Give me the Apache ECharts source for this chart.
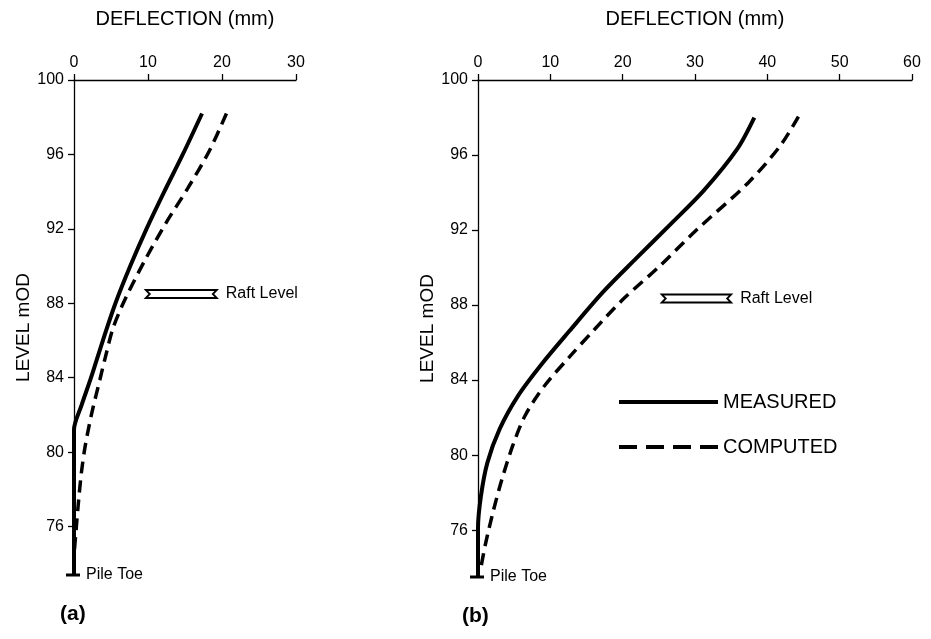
<!DOCTYPE html>
<html>
<head>
<meta charset="utf-8">
<script src="https://cdn.jsdelivr.net/npm/echarts@6/dist/echarts.min.js"></script>
<style>
html,body{margin:0;padding:0;background:#fff;}
#chart{width:931px;height:639px;}
</style>
</head>
<body>
<div id="chart"></div>
<script>
// ---- Data ----
const levelTicks = [76, 80, 84, 88, 92, 96, 100];

// Panel (a)
const measuredA_level = [98.2, 96.0, 94.0, 92.0, 90.0, 88.0, 86.0, 84.0, 82.5, 81.2, 73.4];
const measuredA_defl  = [17.3, 14.7, 12.2, 9.8, 7.6, 5.6, 3.9, 2.3, 1.0, 0.0, 0.0];
const computedA_level = [98.2, 96.2, 94.2, 92.3, 90.4, 88.3, 86.7, 85.2, 83.9, 82.1, 80.3, 78.9, 77.3, 75.9, 74.1, 73.4];
const computedA_defl  = [20.6, 18.3, 15.4, 12.4, 9.7, 7.0, 5.3, 4.3, 3.5, 2.4, 1.5, 1.0, 0.6, 0.3, 0.0, 0.0];

// Panel (b)
const measuredB_level = [98.0, 96.3, 94.1, 92.3, 90.5, 88.7, 86.6, 84.9, 83.2, 81.4, 79.6, 77.8, 76.1, 73.5];
const measuredB_defl  = [38.2, 35.8, 31.2, 26.6, 21.9, 17.3, 12.6, 8.9, 5.6, 3.0, 1.3, 0.4, 0.0, 0.0];
const computedB_level = [98.05, 96.5, 94.5, 92.0, 90.0, 88.4, 86.7, 85.3, 83.7, 82.1, 80.5, 78.7, 77.0, 75.2, 74.0];
const computedB_defl  = [44.3, 41.8, 37.3, 30.2, 24.9, 20.3, 16.1, 12.8, 9.2, 6.5, 4.8, 3.3, 2.1, 1.0, 0.4];

// Raft level annotations: [start deflection, end deflection, level]
const raftA = [9.7, 19.3, 88.5];
const raftB = [25.4, 35.0, 88.35];
// Pile toe: [deflection, level]
const pileToeA = [0, 73.4];
const pileToeB = [0, 73.5];

const FONT = 'Liberation Sans, Arial, Helvetica, sans-serif';

function pairs(d, l) { return d.map((v, i) => [v, l[i]]); }

function raftRender(params, api) {
  const y = api.value(2);
  const p1 = api.coord([api.value(0), y]);
  const p2 = api.coord([api.value(1), y]);
  const h = 4, n = 4;
  return {
    type: 'group',
    children: [
      { type: 'polygon',
        shape: { points: [[p1[0], p1[1]-h], [p2[0], p2[1]-h], [p2[0]-n, p2[1]], [p2[0], p2[1]+h], [p1[0], p1[1]+h], [p1[0]+n, p1[1]]] },
        style: { fill: '#fff', stroke: '#000', lineWidth: 1.8 } },
      { type: 'text',
        style: { text: 'Raft Level', x: p2[0] + 9, y: p2[1], verticalAlign: 'middle', align: 'left', fontSize: 16, fontFamily: FONT, fill: '#000' } }
    ]
  };
}

function toeRender(params, api) {
  const p = api.coord([api.value(0), api.value(1)]);
  return {
    type: 'group',
    children: [
      { type: 'line', shape: { x1: p[0]-8, y1: p[1], x2: p[0]+6, y2: p[1] }, style: { stroke: '#000', lineWidth: 3 } },
      { type: 'text', style: { text: 'Pile Toe', x: p[0] + 12, y: p[1], verticalAlign: 'middle', align: 'left', fontSize: 16, fontFamily: FONT, fill: '#000' } }
    ]
  };
}

function xAxisCfg(idx, max) {
  return {
    gridIndex: idx, type: 'value', position: 'top', min: 0, max: max, interval: 10,
    name: 'DEFLECTION (mm)', nameLocation: 'middle', nameGap: 51,
    nameTextStyle: { fontSize: 20, fontFamily: FONT, color: '#000' },
    axisLine: { show: true, lineStyle: { color: '#000', width: 1.3 } },
    axisTick: { show: true, length: 6, lineStyle: { color: '#000', width: 1.3 } },
    axisLabel: { fontSize: 16, fontFamily: FONT, color: '#000', margin: 9 },
    splitLine: { show: false }
  };
}
function yAxisCfg(idx, min) {
  return {
    gridIndex: idx, type: 'value', min: min, max: 100,
    name: 'LEVEL mOD', nameLocation: 'middle', nameGap: 26,
    nameTextStyle: { fontSize: 19, fontFamily: FONT, color: '#000' },
    axisLine: { show: true, lineStyle: { color: '#000', width: 1.3 } },
    axisTick: { show: true, length: 6, customValues: levelTicks, lineStyle: { color: '#000', width: 1.3 } },
    axisLabel: { fontSize: 16, fontFamily: FONT, color: '#000', margin: 10, customValues: levelTicks },
    splitLine: { show: false }
  };
}

const lineBase = { type: 'line', symbol: 'none', showSymbol: false, smooth: 0.3, clip: false, z: 3, itemStyle: { color: '#000' } };

const option = {
  animation: false,
  backgroundColor: '#fff',
  grid: [
    { left: 74, top: 80, width: 222, height: 495 },
    { left: 478, top: 80, width: 434, height: 497 }
  ],
  xAxis: [xAxisCfg(0, 30), xAxisCfg(1, 60)],
  yAxis: [yAxisCfg(0, pileToeA[1]), yAxisCfg(1, pileToeB[1])],
  legend: {
    orient: 'vertical', left: 617, top: 392, padding: 0, itemWidth: 99, itemHeight: 20, itemGap: 25,
    itemStyle: { opacity: 0 },
    lineStyle: { width: 4 },
    textStyle: { fontSize: 20, fontFamily: FONT, color: '#000' },
    data: [
      { name: 'MEASURED' },
      { name: 'COMPUTED', lineStyle: { width: 4, type: [18, 9] } }
    ]
  },
  title: [
    { text: '(a)', left: 60, top: 604, textStyle: { fontSize: 21, fontWeight: 'bold', fontFamily: FONT, color: '#000' }, padding: 0 },
    { text: '(b)', left: 462, top: 606, textStyle: { fontSize: 21, fontWeight: 'bold', fontFamily: FONT, color: '#000' }, padding: 0 }
  ],
  series: [
    Object.assign({}, lineBase, { name: 'MEASURED', xAxisIndex: 0, yAxisIndex: 0, data: pairs(measuredA_defl, measuredA_level), lineStyle: { color: '#000', width: 4 } }),
    Object.assign({}, lineBase, { name: 'COMPUTED', xAxisIndex: 0, yAxisIndex: 0, data: pairs(computedA_defl, computedA_level), lineStyle: { color: '#000', width: 3.5, type: [12, 7] } }),
    Object.assign({}, lineBase, { name: 'MEASURED', xAxisIndex: 1, yAxisIndex: 1, data: pairs(measuredB_defl, measuredB_level), lineStyle: { color: '#000', width: 4 } }),
    Object.assign({}, lineBase, { name: 'COMPUTED', xAxisIndex: 1, yAxisIndex: 1, data: pairs(computedB_defl, computedB_level), lineStyle: { color: '#000', width: 3.5, type: [12, 7] } }),
    { type: 'custom', xAxisIndex: 0, yAxisIndex: 0, renderItem: raftRender, data: [raftA], clip: false, z: 4 },
    { type: 'custom', xAxisIndex: 1, yAxisIndex: 1, renderItem: raftRender, data: [raftB], clip: false, z: 4 },
    { type: 'custom', xAxisIndex: 0, yAxisIndex: 0, renderItem: toeRender, data: [pileToeA], clip: false, z: 4 },
    { type: 'custom', xAxisIndex: 1, yAxisIndex: 1, renderItem: toeRender, data: [pileToeB], clip: false, z: 4 }
  ]
};

const chart = echarts.init(document.getElementById('chart'), null, { renderer: 'canvas' });
chart.setOption(option);
</script>
</body>
</html>
